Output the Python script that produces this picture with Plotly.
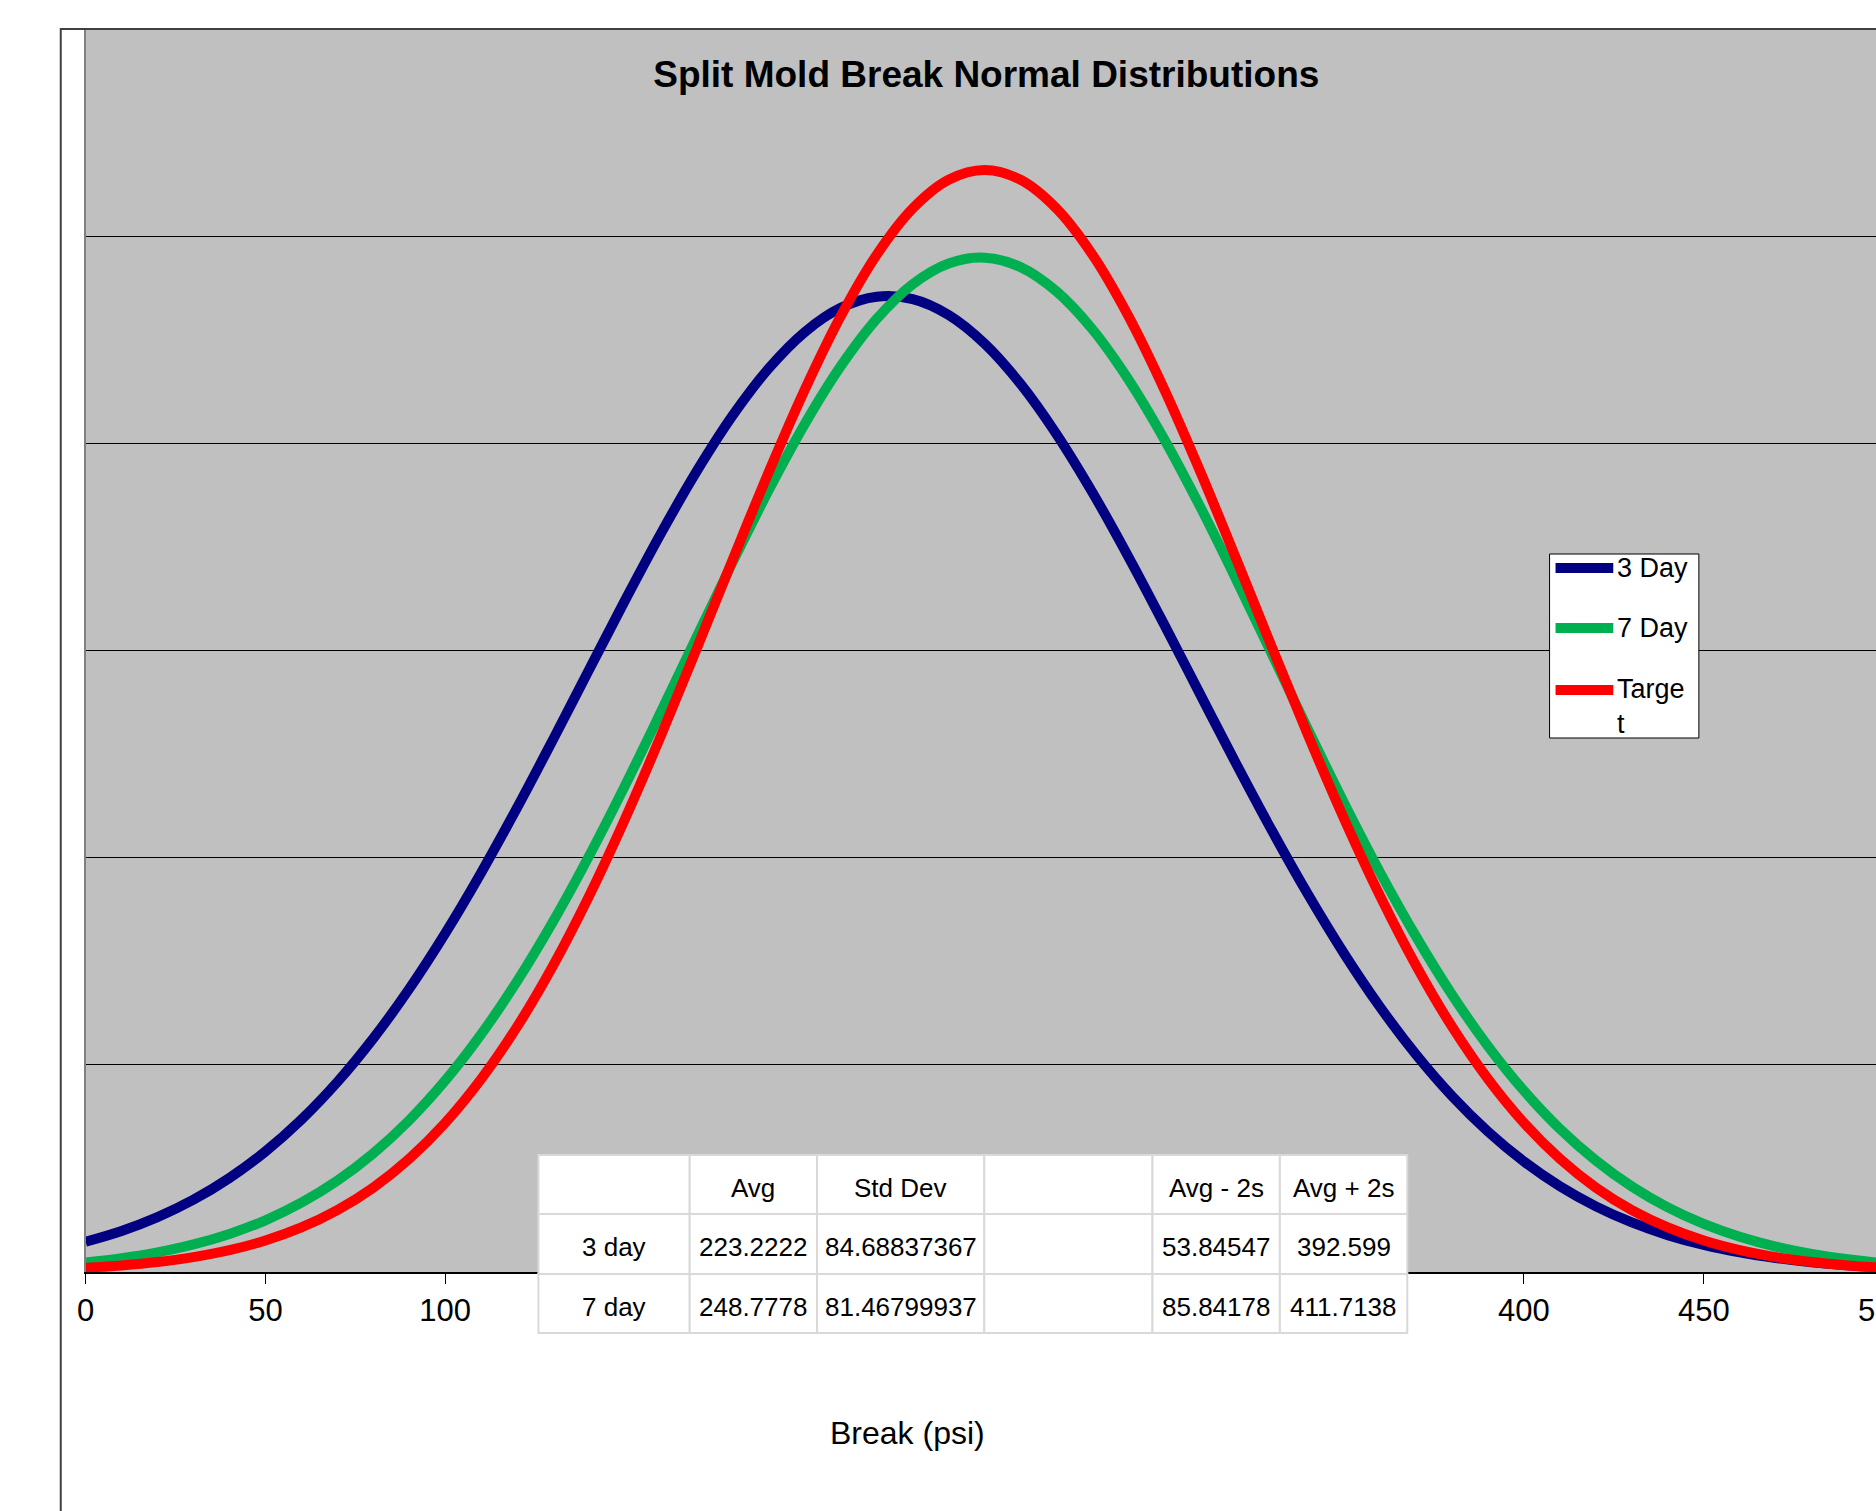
import plotly.graph_objects as go

# ---- data ----
break_psi = [0, 10, 20, 30, 40, 50, 60, 70, 80, 90, 100, 110, 120, 130, 140, 150, 160, 170, 180, 190,
             200, 210, 220, 230, 240, 250, 260, 270, 280, 290, 300, 310, 320, 330, 340, 350, 360, 370,
             380, 390, 400, 410, 420, 430, 440, 450, 460, 470, 480, 490, 500, 510]

three_day = [0.0001461, 0.0001981, 0.0002648, 0.0003491, 0.0004538, 0.0005817, 0.0007354, 0.0009169,
             0.0011276, 0.0013671, 0.0016347, 0.0019277, 0.0022414, 0.0025706, 0.0029071, 0.0032418,
             0.0035654, 0.0038668, 0.0041359, 0.0043623, 0.0045372, 0.0046540, 0.0047076, 0.0046959,
             0.0046194, 0.0044813, 0.0042870, 0.0040443, 0.0037629, 0.0034523, 0.0031235, 0.0027869,
             0.0024520, 0.0021277, 0.0018206, 0.0015364, 0.0012786, 0.0010493, 0.0008491, 0.0006776,
             0.0005334, 0.0004139, 0.0003169, 0.0002391, 0.0001780, 0.0001306, 0.0000946, 0.0000675,
             0.0000475, 0.0000330, 0.0000226, 0.0000153]

seven_day = [0.0000463, 0.0000668, 0.0000949, 0.0001330, 0.0001836, 0.0002496, 0.0003343, 0.0004409,
             0.0005727, 0.0007328, 0.0009240, 0.0011476, 0.0014039, 0.0016917, 0.0020081, 0.0023478,
             0.0027043, 0.0030681, 0.0034289, 0.0037746, 0.0040934, 0.0043723, 0.0046006, 0.0047684,
             0.0048684, 0.0048963, 0.0048506, 0.0047334, 0.0045502, 0.0043084, 0.0040188, 0.0036923,
             0.0033418, 0.0029792, 0.0026163, 0.0022632, 0.0019284, 0.0016188, 0.0013383, 0.0010901,
             0.0008747, 0.0006911, 0.0005382, 0.0004125, 0.0003117, 0.0002318, 0.0001700, 0.0001227,
             0.0000873, 0.0000612, 0.0000422, 0.0000287]

target = [0.0000206, 0.0000318, 0.0000483, 0.0000720, 0.0001055, 0.0001519, 0.0002149, 0.0002986,
          0.0004075, 0.0005465, 0.0007199, 0.0009316, 0.0011842, 0.0014790, 0.0018144, 0.0021868,
          0.0025891, 0.0030114, 0.0034410, 0.0038625, 0.0042593, 0.0046140, 0.0049103, 0.0051334,
          0.0052721, 0.0053192, 0.0052721, 0.0051334, 0.0049103, 0.0046140, 0.0042593, 0.0038625,
          0.0034410, 0.0030114, 0.0025891, 0.0021868, 0.0018144, 0.0014790, 0.0011842, 0.0009316,
          0.0007199, 0.0005465, 0.0004075, 0.0002986, 0.0002149, 0.0001519, 0.0001055, 0.0000720,
          0.0000483, 0.0000318, 0.0000206, 0.0000131]

series_names = ["3 Day", "7 Day", "Targe<br>t"]
series_colors = ["#000080", "#00B050", "#FF0000"]

# visible tick labels (150-350 are hidden behind the table in the reference)
x_ticks = [0, 50, 100, 400, 450]
x_edge_tick = "500"

table_header = ["", "Avg", "Std Dev", "", "Avg - 2s", "Avg + 2s"]
row_labels = ["3 day", "7 day"]
avg_vals = ["223.2222", "248.7778"]
std_vals = ["84.68837367", "81.46799937"]
blank_col = ["", ""]
lower_vals = ["53.84547", "85.84178"]
upper_vals = ["392.599", "411.7138"]

# ---- figure geometry (pixels) ----
W, H = 1876, 1511
PLOT_L, PLOT_T, PLOT_B = 77, 29, 1272
X_MAX = 497.9


def fx(px):
    return px / W


def fy(py):
    return (H - py) / H


fig = go.Figure()

for name, vals, col in zip(series_names, [three_day, seven_day, target], series_colors):
    fig.add_trace(go.Scatter(
        x=break_psi, y=vals, name=name, mode="lines",
        line=dict(color=col, width=10, shape="spline"),
        hoverinfo="skip", showlegend=False,
    ))

shapes = [
    # chart-area border (left and top edges visible)
    dict(type="path", xref="paper", yref="paper",
         path=f"M {fx(52)},{fy(1530)} L {fx(52)},{fy(29)} L {fx(1900)},{fy(29)}",
         line=dict(color="#404040", width=2), layer="above"),
]
annotations = []

# ---- overlay data table (cells as shapes, values as text) ----
col_edges = [532, 684, 812, 980, 1149, 1277, 1405]
row_edges = [1155, 1214, 1274, 1333]
table_rows = [table_header] + [list(r) for r in zip(row_labels, avg_vals, std_vals, blank_col, lower_vals, upper_vals)]
tfont = dict(family="Arial, Liberation Sans", size=26, color="black")
for ri, row in enumerate(table_rows):
    y0, y1 = row_edges[ri], row_edges[ri + 1]
    for ci, val in enumerate(row):
        x0, x1 = col_edges[ci], col_edges[ci + 1]
        shapes.append(dict(type="rect", xref="paper", yref="paper",
                           x0=fx(x0), x1=fx(x1), y0=fy(y1), y1=fy(y0),
                           fillcolor="white", line=dict(color="#d9d9d9", width=2), layer="above"))
        if val:
            annotations.append(dict(text=val, xref="paper", yref="paper",
                                    x=fx((x0 + x1) / 2), y=fy((y0 + y1) / 2 + 3),
                                    xanchor="center", yanchor="middle", showarrow=False, font=tfont))

# ---- legend (box, line samples, labels) ----
leg_x0, leg_x1, leg_y0, leg_y1 = 1548, 1698, 554, 738
leg_text_rows = [568, 628, 706]
leg_line_rows = [568, 628, 690]
shapes.append(dict(type="rect", xref="paper", yref="paper",
                   x0=fx(leg_x0), x1=fx(leg_x1), y0=fy(leg_y1), y1=fy(leg_y0),
                   fillcolor="white", line=dict(color="black", width=1), layer="above"))
for name, col, ly, ty in zip(series_names, series_colors, leg_line_rows, leg_text_rows):
    shapes.append(dict(type="line", xref="paper", yref="paper",
                       x0=fx(1554), x1=fx(1612), y0=fy(ly), y1=fy(ly),
                       line=dict(color=col, width=10), layer="above"))
    annotations.append(dict(text=name, xref="paper", yref="paper", x=fx(1614), y=fy(ty),
                            xanchor="left", yanchor="middle", align="left", showarrow=False,
                            font=dict(family="Arial, Liberation Sans", size=27, color="black")))

annotations += [
    dict(text="Break (psi)", xref="paper", yref="paper",
         x=fx(903), y=fy(1433), xanchor="center", yanchor="middle",
         showarrow=False, font=dict(family="Arial, Liberation Sans", size=32, color="black")),
    dict(text=x_edge_tick, xref="paper", yref="paper",
         x=fx(PLOT_L + 500 * (W - PLOT_L) / X_MAX), y=fy(1310), xanchor="center", yanchor="middle",
         showarrow=False, font=dict(family="Arial, Liberation Sans", size=31, color="black")),
]

fig.update_layout(
    width=W, height=H,
    margin=dict(l=0, r=0, t=0, b=0, pad=0),
    paper_bgcolor="white",
    plot_bgcolor="#C0C0C0",
    font=dict(family="Arial, Liberation Sans", color="black"),
    title=dict(text="<b>Split Mold Break Normal Distributions</b>",
               x=fx(982), xref="paper", xanchor="center",
               y=fy(74), yref="paper", yanchor="middle",
               font=dict(family="Arial, Liberation Sans", size=37, color="black")),
    xaxis=dict(domain=[fx(PLOT_L), 1], range=[0, X_MAX], tickvals=x_ticks, ticks="outside", ticklen=10,
               tickwidth=1, tickcolor="black", showgrid=False, zeroline=False,
               showline=True, linecolor="black", linewidth=2,
               tickfont=dict(family="Arial, Liberation Sans", size=31, color="black")),
    yaxis=dict(domain=[fy(PLOT_B), fy(PLOT_T)], range=[0, 0.006], dtick=0.001,
               showgrid=True, gridcolor="black", gridwidth=1,
               zeroline=False, showticklabels=False, ticks="",
               showline=True, linecolor="#808080", linewidth=2),
    showlegend=False,
    annotations=annotations,
    shapes=shapes,
)

post = ("var gd=document.getElementById('{plot_id}');"
        "document.documentElement.style.margin='0';document.body.style.margin='0';"
        "document.documentElement.style.overflow='hidden';document.body.style.overflow='hidden';"
        "gd.style.position='absolute';gd.style.left='0px';gd.style.top='0px';")
fig.write_html("out.html", config={"displayModeBar": False}, post_script=post)
